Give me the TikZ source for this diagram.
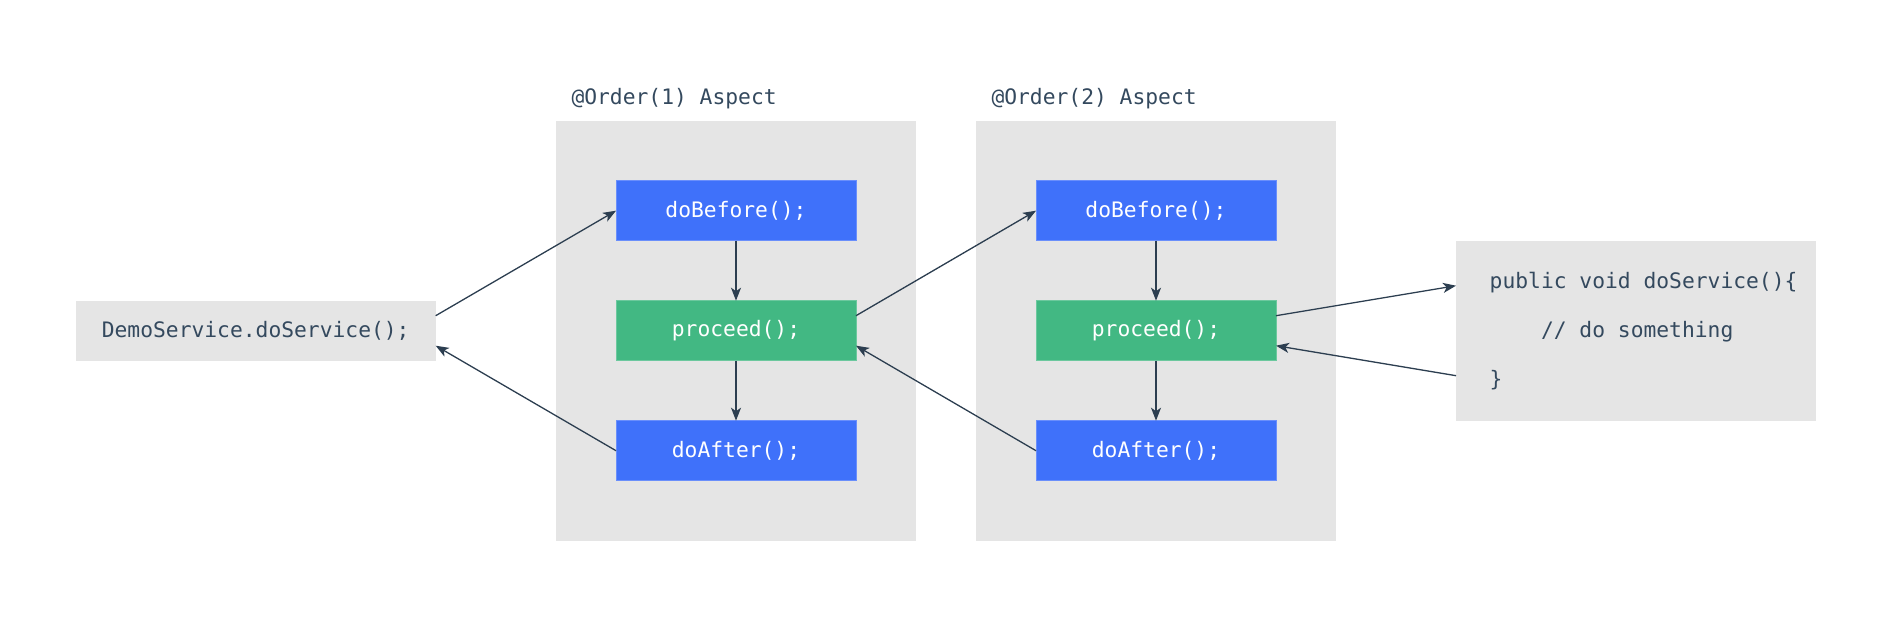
\documentclass[tikz,border=0pt]{standalone}
\usepackage{fontspec}
\setmonofont{DejaVu Sans Mono}
\usetikzlibrary{arrows.meta,calc}
\definecolor{cblue}{HTML}{3F71FA}
\definecolor{cblueb}{HTML}{6A8FFB}
\definecolor{cgreen}{HTML}{42B883}
\definecolor{cgreenb}{HTML}{6CC89E}
\definecolor{cgray}{HTML}{E5E5E5}
\definecolor{ctext}{HTML}{34495E}
\definecolor{carrow}{HTML}{2C3E50}
\begin{document}
\begin{tikzpicture}[x=1pt,y=-1pt,
  every node/.style={font=\ttfamily\fontsize{21.3}{25}\selectfont, inner sep=0pt, outer sep=0pt},
  graybox/.style={fill=cgray, draw=none, rectangle},
  bluebox/.style={fill=cblue, draw=cblueb, line width=1pt, minimum width=240pt, minimum height=60pt, text=white},
  greenbox/.style={fill=cgreen, draw=cgreenb, line width=1pt, minimum width=240pt, minimum height=60pt, text=white},
  titletext/.style={text=ctext, anchor=base west},
  codetext/.style={text=ctext, anchor=base west},
  conn/.style={draw=carrow, line width=1.3pt, -{Stealth[length=13pt,width=10pt,inset=3.5pt]}}
]
\useasboundingbox (0,0) rectangle (1892,617);
% containers
\node[graybox, minimum width=360pt, minimum height=420pt] (g1) at (736,330.7) {};
\node[graybox, minimum width=360pt, minimum height=420pt] (g2) at (1156,330.7) {};
\node[graybox, minimum width=360pt, minimum height=60pt, text=ctext] (demo) at (255.7,330.7) {DemoService.doService();};
\node[graybox, minimum width=360pt, minimum height=180pt] (code) at (1636,330.7) {};
% titles
\node[titletext] (t1) at (571.5,105) {@Order(1) Aspect};
\node[titletext] (t2) at (991.5,105) {@Order(2) Aspect};
% aspect 1
\node[bluebox] (b1) at (736,210.7) {doBefore();};
\node[greenbox] (p1) at (736,330.7) {proceed();};
\node[bluebox] (a1) at (736,450.7) {doAfter();};
% aspect 2
\node[bluebox] (b2) at (1156,210.7) {doBefore();};
\node[greenbox] (p2) at (1156,330.7) {proceed();};
\node[bluebox] (a2) at (1156,450.7) {doAfter();};
% code text
\node[codetext] (c1) at (1489.7,288.5) {public void doService()\{};
\node[codetext] (c2) at (1489.7,337.5) {\ \ \ \ // do something};
\node[codetext] (c3) at (1489.7,386.5) {\}};
% connectors
\draw[conn] ($(demo.north east)!0.25!(demo.south east)$) -- (b1.west);
\draw[conn] (a1.west) -- ($(demo.north east)!0.75!(demo.south east)$);
\draw[conn] (b1.south) -- (p1.north);
\draw[conn] (p1.south) -- (a1.north);
\draw[conn] ($(p1.north east)!0.25!(p1.south east)$) -- (b2.west);
\draw[conn] (a2.west) -- ($(p1.north east)!0.75!(p1.south east)$);
\draw[conn] (b2.south) -- (p2.north);
\draw[conn] (p2.south) -- (a2.north);
\draw[conn] ($(p2.north east)!0.25!(p2.south east)$) -- ($(code.north west)!0.25!(code.south west)$);
\draw[conn] ($(code.north west)!0.75!(code.south west)$) -- ($(p2.north east)!0.75!(p2.south east)$);
\end{tikzpicture}
\end{document}
